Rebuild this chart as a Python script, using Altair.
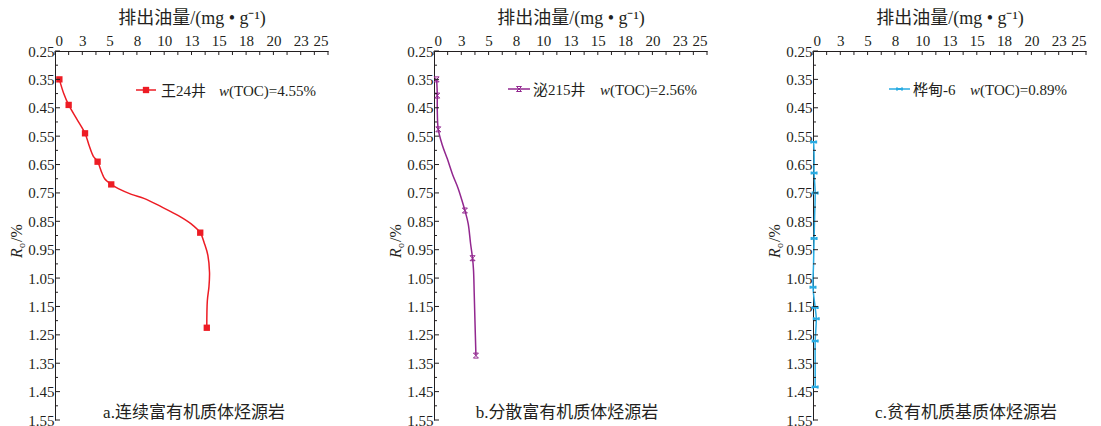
import altair as alt
import pandas as pd

FONT = "'Liberation Serif', 'Noto Sans CJK SC', serif"
INK = "#231f20"

# ---- axis ticks / labels ----
x_major = [0, 2.5, 5, 7.5, 10, 12.5, 15, 17.5, 20, 22.5, 25]
x_minor = [1.25, 3.75, 6.25, 8.75, 11.25, 13.75, 16.25, 18.75, 21.25, 23.75]
y_major = [0.25, 0.35, 0.45, 0.55, 0.65, 0.75, 0.85, 0.95, 1.05, 1.15, 1.25, 1.35, 1.45, 1.55]
y_minor = [0.30, 0.40, 0.50, 0.60, 0.70, 0.80, 0.90, 1.00, 1.10, 1.20, 1.30, 1.40, 1.50]

x_title = "排出油量/(mg • g⁻¹)"

# ---- panel a: 王24井 ----
a_x = [0.4, 0.8, 1.25, 2.0, 2.75, 3.1, 3.5, 3.9, 4.3, 4.55, 5.15, 5.8, 7.0, 8.2, 9.8, 11.3, 12.5, 13.3, 13.7, 14.0, 14.15, 14.1, 13.95, 13.9]
a_y = [0.35, 0.40, 0.44, 0.49, 0.54, 0.58, 0.62, 0.64, 0.68, 0.70, 0.72, 0.735, 0.755, 0.77, 0.80, 0.83, 0.86, 0.89, 0.93, 0.97, 1.03, 1.08, 1.13, 1.225]
a_mx = [0.4, 1.25, 2.75, 3.9, 5.15, 13.3, 13.9]
a_my = [0.35, 0.44, 0.54, 0.64, 0.72, 0.89, 1.225]

# ---- panel b: 泌215井 ----
b_x = [0.24, 0.28, 0.3, 0.3, 0.39, 0.75, 1.22, 1.7, 2.22, 2.55, 2.83, 3.13, 3.35, 3.53, 3.62, 3.68, 3.75, 3.84]
b_y = [0.35, 0.38, 0.407, 0.46, 0.526, 0.58, 0.63, 0.685, 0.735, 0.775, 0.812, 0.858, 0.929, 0.98, 1.023, 1.10, 1.20, 1.323]
b_mx = [0.24, 0.3, 0.39, 2.83, 3.53, 3.84]
b_my = [0.35, 0.407, 0.526, 0.812, 0.98, 1.323]

# ---- panel c: 桦甸-6 ----
c_x = [0.06, 0.1, 0.1, 0.2, 0.15, 0.1, 0.05, 0.0, 0.2, 0.3, 0.2, 0.2, 0.2]
c_y = [0.571, 0.62, 0.68, 0.75, 0.83, 0.911, 1.0, 1.082, 1.154, 1.193, 1.272, 1.35, 1.434]
c_mx = [0.06, 0.1, 0.2, 0.1, 0.0, 0.2, 0.3, 0.2, 0.2]
c_my = [0.571, 0.68, 0.75, 0.911, 1.082, 1.154, 1.193, 1.272, 1.434]

names = ["王24井", "泌215井", "桦甸-6"]
tocs = ["(TOC)=4.55%", "(TOC)=2.56%", "(TOC)=0.89%"]
captions = ["a.连续富有机质体烃源岩", "b.分散富有机质体烃源岩", "c.贫有机质基质体烃源岩"]
colors = ["#ed1c24", "#92278f", "#29abe2"]

W, H = 273, 369

xs = alt.Scale(domain=[0, 25], nice=False, zero=False)
ys = alt.Scale(domain=[0.25, 1.55], reverse=True, nice=False, zero=False)

SHAPE_X = "M-1,-1L1,1M-1,1L1,-1M-1,-1L1,-1M-1,1L1,1"
SHAPE_BAR = "M-1,0L1,0M-1,-0.6L-1,0.6M1,-0.6L1,0.6"

X_AXIS = alt.Axis(
    orient="top", values=x_major, format=".0f", ticks=False, grid=False,
    title=x_title, titleFont=FONT, titleFontSize=18, titleFontWeight="normal",
    titleColor=INK, titlePadding=6, labelFont=FONT, labelFontSize=15,
    labelColor=INK, labelPadding=3, domainColor=INK, labelOverlap=False)
Y_AXIS = alt.Axis(
    values=y_major, format=".2f", ticks=False, grid=False, title=None,
    labelFont=FONT, labelFontSize=15, labelColor=INK, labelPadding=1,
    domainColor=INK, labelOverlap=False)


def txt(text, x, y, size=15, style="normal", align="left", angle=0, baseline="middle"):
    kw = dict(font=FONT, fontSize=size, fontStyle=style, align=align,
              baseline=baseline, color=INK)
    if angle:
        kw["angle"] = angle
    return alt.Chart(pd.DataFrame({"label": [text]})).mark_text(**kw).encode(
        text="label:N", x=alt.value(x), y=alt.value(y))


def marker_mark(kind, color, size):
    if kind == "square":
        return dict(shape="square", filled=True, color=color, size=size, opacity=1)
    if kind == "x":
        return dict(shape=SHAPE_X, filled=False, color=color, size=size, strokeWidth=1, opacity=1)
    return dict(shape=SHAPE_BAR, filled=False, color=color, size=size, strokeWidth=2, opacity=1)


def panel(lx, ly, mx, my, color, kind, msize, name, toc, caption,
          leg_x0, leg_x1, leg_y, name_x, w_x, cap_x):
    line_df = pd.DataFrame({"x": lx, "y": ly, "i": list(range(len(lx)))})
    mk_df = pd.DataFrame({"x": mx, "y": my})

    line = alt.Chart(line_df).mark_line(color=color, strokeWidth=1.5, interpolate="catmull-rom").encode(
        x=alt.X("x:Q", scale=xs, axis=X_AXIS),
        y=alt.Y("y:Q", scale=ys, axis=Y_AXIS),
        order="i:Q",
    )
    pts = alt.Chart(mk_df).mark_point(**marker_mark(kind, color, msize)).encode(
        x=alt.X("x:Q", scale=xs, axis=X_AXIS), y=alt.Y("y:Q", scale=ys, axis=Y_AXIS))

    xt = alt.Chart(pd.DataFrame({"x": x_major + x_minor})).mark_rule(color=INK, strokeWidth=1).encode(
        x=alt.X("x:Q", scale=xs, axis=X_AXIS), y=alt.value(0), y2=alt.value(4))
    ytM = alt.Chart(pd.DataFrame({"y": y_major})).mark_rule(color=INK, strokeWidth=1).encode(
        y=alt.Y("y:Q", scale=ys, axis=Y_AXIS), x=alt.value(0), x2=alt.value(5))
    ytm = alt.Chart(pd.DataFrame({"y": y_minor})).mark_rule(color=INK, strokeWidth=1).encode(
        y=alt.Y("y:Q", scale=ys, axis=Y_AXIS), x=alt.value(0), x2=alt.value(3))

    leg_line = alt.Chart(pd.DataFrame({"k": [0]})).mark_rule(color=color, strokeWidth=1.5).encode(
        x=alt.value(leg_x0), x2=alt.value(leg_x1), y=alt.value(leg_y))
    leg_pt = alt.Chart(pd.DataFrame({"k": [0]})).mark_point(**marker_mark(kind, color, msize)).encode(
        x=alt.value((leg_x0 + leg_x1) / 2), y=alt.value(leg_y))

    # invisible left anchor for the layout bounds
    anchor = alt.Chart(pd.DataFrame({"k": [0]})).mark_rule(opacity=0, strokeWidth=0.1).encode(
        x=alt.value(-49), y=alt.value(100), y2=alt.value(110))

    layers = [line, pts, xt, ytM, ytm, leg_line, leg_pt, anchor,
              txt(name, name_x, leg_y + 1),
              txt("w", w_x, leg_y + 1, style="italic"),
              txt(toc, w_x + 10, leg_y + 1),
              txt(caption, cap_x, 362, size=17, align="center"),
              txt("R", -33, 207, size=16, style="italic", angle=270, baseline="alphabetic"),
              txt("o", -30, 197, size=10, angle=270, baseline="alphabetic"),
              txt("/%", -33, 191, size=16, angle=270, baseline="alphabetic"),
              ]
    return alt.layer(*layers).properties(width=W, height=H)


pa = panel(a_x, a_y, a_mx, a_my, colors[0], "square", 40, names[0], tocs[0], captions[0],
           81, 101, 39, 106, 164, 139)
pb = panel(b_x, b_y, b_mx, b_my, colors[1], "x", 25, names[1], tocs[1], captions[1],
           74, 96, 38, 99, 166, 133)
pc = panel(c_x, c_y, c_mx, c_my, colors[2], "bar", 25, names[2], tocs[2], captions[2],
           76, 97, 38, 100, 157, 153)

chart = alt.hconcat(pa, pb, pc, spacing=106, bounds="flush").properties(
    padding={"left": -3, "top": 0, "right": 0, "bottom": 0}
).configure(font=FONT).configure_view(stroke="transparent")

chart.save("out.html", embed_options={"renderer": "svg", "actions": False})
